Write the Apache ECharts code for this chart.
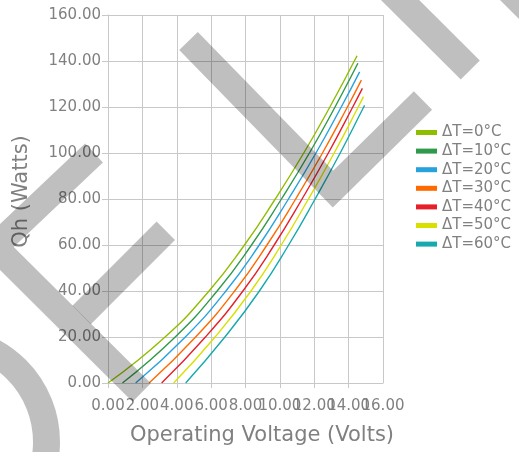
<!DOCTYPE html>
<html>
<head>
<meta charset="utf-8">
<script src="https://cdn.jsdelivr.net/npm/echarts@6/dist/echarts.min.js"></script>
<style>html,body{margin:0;padding:0;background:#fff;}#c{width:519px;height:452px;}</style>
</head>
<body>
<div id="c"></div>
<script>
// Data: operating voltage (V) where each curve reaches the Qh levels
const seriesNames = ['ΔT=0°C','ΔT=10°C','ΔT=20°C','ΔT=30°C','ΔT=40°C','ΔT=50°C','ΔT=60°C'];
const seriesColors = ['#8fbe00','#2e9a4a','#27a2dc','#ff6a00','#e5202a','#d9e000','#17a9ad'];
const qLevels = [0, 20, 40, 60, 80, 100, 120];
const vAtQ_dT0  = [0.00, 3.32, 5.88, 7.94, 9.73, 11.39, 12.91];
const vAtQ_dT10 = [0.84, 3.91, 6.35, 8.35, 10.09, 11.72, 13.21];
const vAtQ_dT20 = [1.61, 4.50, 6.86, 8.80, 10.50, 12.10, 13.57];
const vAtQ_dT30 = [2.39, 5.10, 7.37, 9.25, 10.92, 12.48, 13.93];
const vAtQ_dT40 = [3.12, 5.67, 7.85, 9.67, 11.29, 12.82, 14.24];
const vAtQ_dT50 = [3.82, 6.23, 8.32, 10.08, 11.66, 13.16, 14.56];
const vAtQ_dT60 = [4.52, 6.80, 8.81, 10.51, 12.05, 13.51, 14.88];
const endV = [14.49, 14.54, 14.64, 14.74, 14.80, 14.86, 14.93];
const endQ = [142.3, 139.0, 135.3, 131.7, 128.1, 124.5, 120.7];
const xTicks = [0, 2, 4, 6, 8, 10, 12, 14, 16];
const yTicks = [0, 20, 40, 60, 80, 100, 120, 140, 160];

const vTables = [vAtQ_dT0, vAtQ_dT10, vAtQ_dT20, vAtQ_dT30, vAtQ_dT40, vAtQ_dT50, vAtQ_dT60];
const series = seriesNames.map((name, i) => {
  const pts = vTables[i].map((v, k) => [v, qLevels[k]]);
  pts.push([endV[i], endQ[i]]);
  return {
    name: name, type: 'line', xAxisIndex: 0, yAxisIndex: 0, data: pts, smooth: 0.5,
    showSymbol: false, symbol: 'none',
    lineStyle: { color: seriesColors[i], width: 1.4 },
    itemStyle: { color: seriesColors[i] }
  };
});

const gray = '#808080';
const grid = '#c8c8c8';
const wm = 'rgba(0,0,0,0.25)';
const xMin = xTicks[0], xMax = xTicks[xTicks.length - 1];
const chart = echarts.init(document.getElementById('c'), null, { renderer: 'canvas' });
chart.setOption({
  animation: false,
  backgroundColor: '#fff',
  textStyle: { fontFamily: 'DejaVu Sans' },
  grid: { left: 108, right: 136, top: 15, bottom: 69, containLabel: false },
  xAxis: [{
    type: 'value', position: 'bottom', min: xMin, max: xMax, interval: 2,
    name: 'Operating Voltage (Volts)', nameLocation: 'middle', nameGap: 42,
    nameTextStyle: { color: gray, fontSize: 21, fontFamily: 'DejaVu Sans', padding: [0, 0, 0, 33] },
    axisLine: { show: true, lineStyle: { color: grid, width: 1 } },
    axisTick: { show: true, length: 5, lineStyle: { color: grid } },
    axisLabel: { color: gray, fontSize: 15, margin: 16, formatter: v => v.toFixed(2),
      showMinLabel: true, showMaxLabel: false },
    splitLine: { show: true, lineStyle: { color: grid, width: 1 } }
  }, {
    // overlay axis carrying only the last tick label (overlapping labels as in the reference)
    type: 'value', position: 'bottom', offset: 0, min: xMin, max: xMax, interval: 2,
    axisLine: { show: false }, axisTick: { show: false }, splitLine: { show: false },
    axisLabel: { color: gray, fontSize: 15, margin: 16,
      formatter: v => (v === xMax ? v.toFixed(2) : ''), showMinLabel: true, showMaxLabel: true }
  }],
  yAxis: {
    type: 'value', min: yTicks[0], max: yTicks[yTicks.length - 1], interval: 20,
    name: 'Qh (Watts)', nameLocation: 'middle', nameGap: 76,
    nameTextStyle: { color: gray, fontSize: 21, fontFamily: 'DejaVu Sans', padding: [0, 0, 0, 15] },
    axisLine: { show: true, lineStyle: { color: grid, width: 1 } },
    axisTick: { show: true, length: 6, inside: false, lineStyle: { color: grid } },
    axisLabel: { color: gray, fontSize: 15, margin: 7, formatter: v => v.toFixed(2),
      showMinLabel: true, showMaxLabel: true },
    splitLine: { show: true, lineStyle: { color: grid, width: 1 } }
  },
  legend: {
    orient: 'vertical', left: 416, top: 123.5, padding: 0, icon: 'rect',
    itemWidth: 21, itemHeight: 5, itemGap: 0.6,
    textStyle: { color: gray, fontSize: 15, lineHeight: 18, fontFamily: 'DejaVu Sans' },
    data: seriesNames
  },
  series: series,
  graphic: [
    { type: 'polyline', z: 100, silent: true,
      shape: { points: [[188.5, 41], [333, 189], [423, 100.5]] },
      style: { stroke: wm, lineWidth: 26, lineJoin: 'miter', lineCap: 'butt', fill: null } },
    { type: 'polyline', z: 100, silent: true,
      shape: { points: [[380, -20], [470.3, 70]] },
      style: { stroke: wm, lineWidth: 27, lineCap: 'butt', fill: null } },
    { type: 'polyline', z: 100, silent: true,
      shape: { points: [[500, -18.4], [570, 51.6]] },
      style: { stroke: wm, lineWidth: 26, lineCap: 'butt', fill: null } },
    { type: 'polyline', z: 100, silent: true,
      shape: { points: [[94, 153], [-5, 246.7], [141.7, 392.5]] },
      style: { stroke: wm, lineWidth: 26, lineJoin: 'miter', lineCap: 'butt', fill: null } },
    { type: 'polyline', z: 100, silent: true,
      shape: { points: [[165.8, 230.8], [81.6, 315]] },
      style: { stroke: wm, lineWidth: 26, lineCap: 'butt', fill: null } },
    { type: 'circle', z: 100, silent: true,
      shape: { cx: -56, cy: 442, r: 102.5 },
      style: { stroke: wm, lineWidth: 27, fill: null } }
  ]
});
</script>
</body>
</html>
